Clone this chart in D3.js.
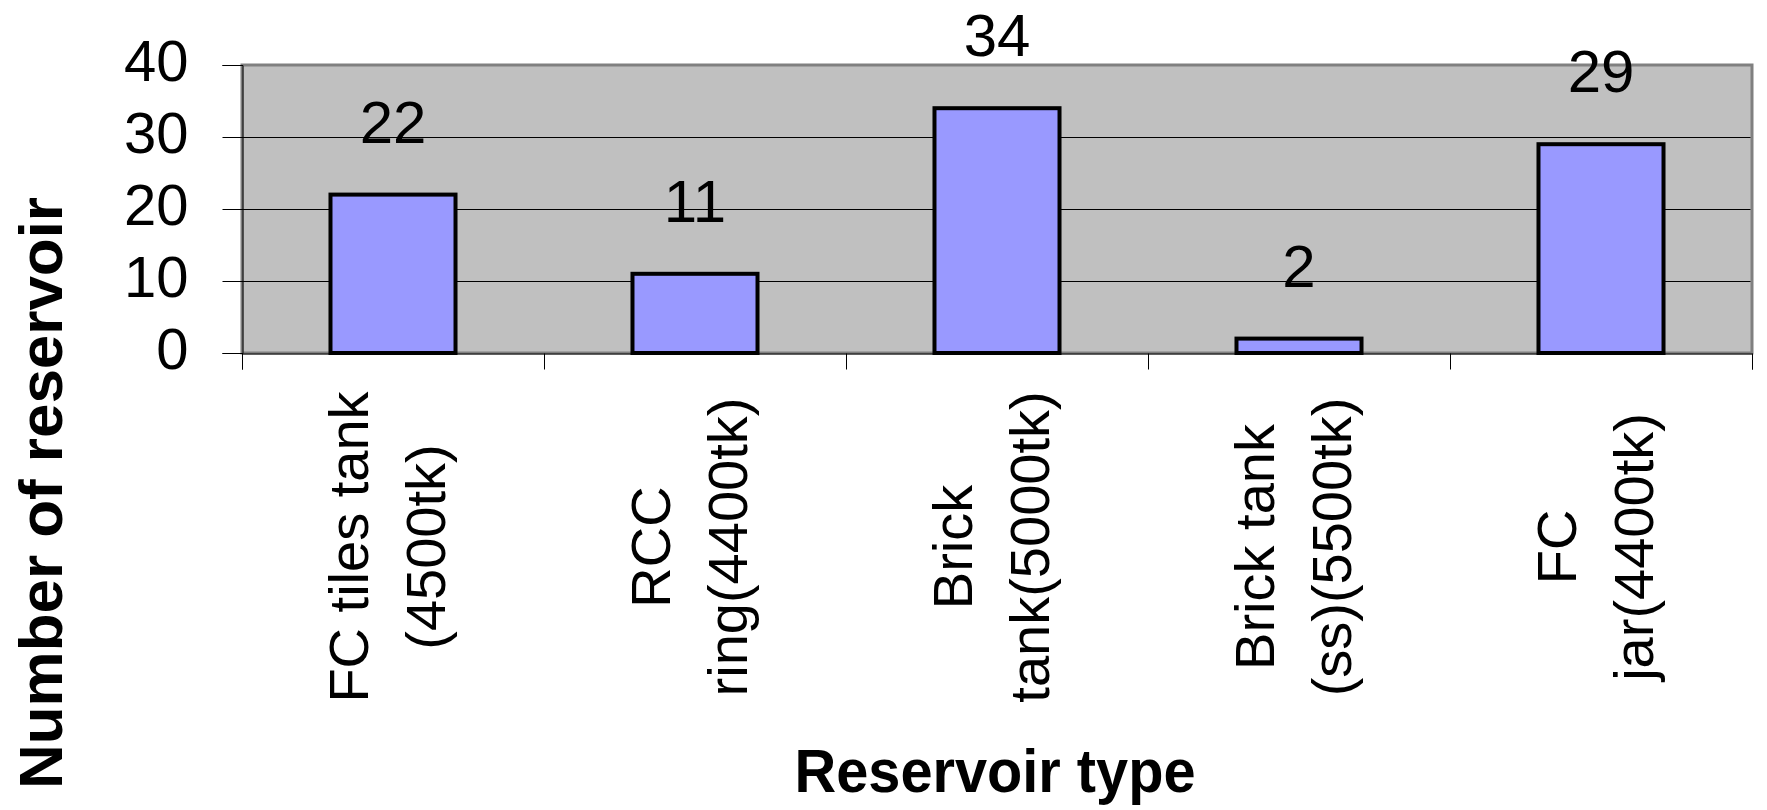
<!DOCTYPE html>
<html>
<head>
<meta charset="utf-8">
<script src="https://cdnjs.cloudflare.com/ajax/libs/d3/7.8.5/d3.min.js"></script>
<style>
  html, body { margin: 0; padding: 0; background: #fff; }
  svg { display: block; }
  text { font-family: "Liberation Sans", Arial, sans-serif; fill: #000; }
</style>
</head>
<body>
<div id="chart"></div>
<script>

///////////////////////////////////////////////////////////////////////////
////////////////////////////////// Data ///////////////////////////////////
///////////////////////////////////////////////////////////////////////////
var categories = ["FC tiles tank (4500tk)", "RCC ring(4400tk)", "Brick tank(5000tk)", "Brick tank (ss)(5500tk)", "FC jar(4400tk)"]
var labelLines = [["FC tiles tank", "(4500tk)"], ["RCC", "ring(4400tk)"], ["Brick", "tank(5000tk)"], ["Brick tank", "(ss)(5500tk)"], ["FC", "jar(4400tk)"]]
var values = [22, 11, 34, 2, 29]
var yTicks = [0, 10, 20, 30, 40]
var xTitle = "Reservoir type"
var yTitle = "Number of reservoir"

///////////////////////////////////////////////////////////////////////////
///////////////////////////////// Globals /////////////////////////////////
///////////////////////////////////////////////////////////////////////////
var width = 1767, height = 810
var plot = {left: 242, right: 1752, top: 65, bottom: 353}

var svg = d3.select("#chart").append("svg")
  .attr("width", width)
  .attr("height", height)

///////////////////////////////////////////////////////////////////////////
///////////////////////////// Create scales ///////////////////////////////
///////////////////////////////////////////////////////////////////////////
var xScale = d3.scaleBand()
  .domain(categories)
  .range([plot.left, plot.right])
  .paddingInner(0.586)
  .paddingOuter(0.293)

// category boundaries for the tick marks
var xEdge = d3.scaleLinear()
  .domain([0, categories.length])
  .range([plot.left, plot.right])

var yScale = d3.scaleLinear()
  .domain([0, 40])
  .range([plot.bottom, plot.top])

///////////////////////////////////////////////////////////////////////////
////////////////////////////// Plot area //////////////////////////////////
///////////////////////////////////////////////////////////////////////////
svg.append("rect")
  .attr("x", plot.left)
  .attr("y", plot.top)
  .attr("width", plot.right - plot.left)
  .attr("height", plot.bottom - plot.top)
  .attr("fill", "#C0C0C0")
  .attr("stroke", "#808080")
  .attr("stroke-width", 3)

// gridlines
svg.append("g")
  .selectAll("line")
  .data(yTicks.filter(d => d > 0 && d < 40))
  .enter().append("line")
  .attr("x1", plot.left)
  .attr("x2", plot.right - 1.5)
  .attr("y1", d => Math.round(yScale(d)) + 0.5)
  .attr("y2", d => Math.round(yScale(d)) + 0.5)
  .attr("stroke", "#000")
  .attr("stroke-width", 1)

///////////////////////////////////////////////////////////////////////////
///////////////////////////////// Axes ////////////////////////////////////
///////////////////////////////////////////////////////////////////////////
var yAxis = svg.append("g")
  .attr("transform", "translate(" + (plot.left + 0.5) + ",0)")
  .call(d3.axisLeft(yScale).tickValues(yTicks).tickSize(20).tickPadding(34))

yAxis.select(".domain").attr("stroke", "#000")
yAxis.selectAll(".tick line").attr("stroke", "#000")
yAxis.selectAll(".tick text")
  .attr("font-size", 58)
  .attr("font-family", "Liberation Sans, Arial, sans-serif")
  .attr("fill", "#000")
  .attr("dy", 15)

var xAxis = svg.append("g")
  .attr("transform", "translate(0," + (plot.bottom + 0.5) + ")")
  .call(d3.axisBottom(xEdge).tickValues(d3.range(0, categories.length + 1)).tickSize(16).tickFormat(""))

xAxis.select(".domain").attr("stroke", "#000")
xAxis.selectAll(".tick line").attr("stroke", "#000")

///////////////////////////////////////////////////////////////////////////
///////////////////////////////// Bars ////////////////////////////////////
///////////////////////////////////////////////////////////////////////////
svg.append("g")
  .selectAll("rect")
  .data(values)
  .enter().append("rect")
  .attr("x", (d, i) => xScale(categories[i]))
  .attr("y", d => yScale(d))
  .attr("width", xScale.bandwidth())
  .attr("height", d => yScale(0) - yScale(d))
  .attr("fill", "#9999FF")
  .attr("stroke", "#000")
  .attr("stroke-width", 4)

// value labels
svg.append("g")
  .selectAll("text")
  .data(values)
  .enter().append("text")
  .attr("x", (d, i) => xScale(categories[i]) + xScale.bandwidth() / 2)
  .attr("y", d => yScale(d) - 52)
  .attr("text-anchor", "middle")
  .attr("font-size", 60)
  .text(d => d)

///////////////////////////////////////////////////////////////////////////
//////////////////////////// Category labels //////////////////////////////
///////////////////////////////////////////////////////////////////////////
var labelY = 547
var catLabels = svg.append("g")
  .selectAll("g")
  .data(labelLines)
  .enter().append("g")
  .attr("transform", (d, i) => "translate(" + (xScale(categories[i]) + xScale.bandwidth() / 2) + "," + labelY + ") rotate(-90)")

catLabels.selectAll("text")
  .data(d => d)
  .enter().append("text")
  .attr("x", 0)
  .attr("y", (d, j) => j == 0 ? -25 : 52)
  .attr("text-anchor", "middle")
  .attr("font-size", 56)
  .text(d => d)

///////////////////////////////////////////////////////////////////////////
////////////////////////////// Axis titles ////////////////////////////////
///////////////////////////////////////////////////////////////////////////
svg.append("text")
  .attr("x", (plot.left + plot.right) / 2 - 2)
  .attr("y", 792)
  .attr("text-anchor", "middle")
  .attr("font-size", 61)
  .attr("font-weight", "bold")
  .attr("textLength", 401)
  .attr("lengthAdjust", "spacingAndGlyphs")
  .text(xTitle)

svg.append("text")
  .attr("transform", "translate(62,493) rotate(-90)")
  .attr("text-anchor", "middle")
  .attr("font-size", 62)
  .attr("font-weight", "bold")
  .attr("textLength", 592)
  .attr("lengthAdjust", "spacing")
  .text(yTitle)

</script>
</body>
</html>
